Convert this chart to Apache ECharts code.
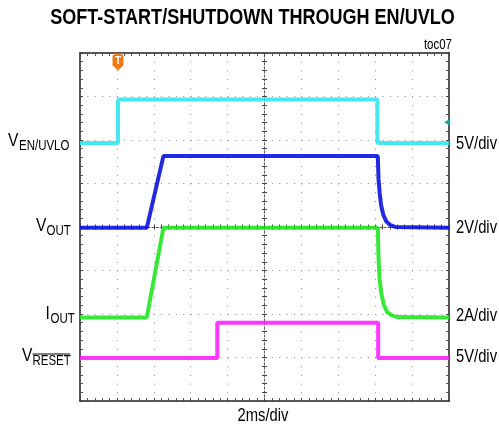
<!DOCTYPE html>
<html>
<head>
<meta charset="utf-8">
<script src="https://cdn.jsdelivr.net/npm/echarts@6/dist/echarts.min.js"></script>
<style>
html,body{margin:0;padding:0;background:#fff;}
#chart{width:499px;height:425px;}
</style>
</head>
<body>
<div id="chart"></div>
<script>
// Traces in scope divisions: [time div (0..10), level div (0..8)]
const enUvlo = [[0,5.93],[1.03,5.93],[1.03,6.93],[8.06,6.93],[8.06,5.93],[10,5.93]];
const vOut = [[0,3.98],[1.81,3.98],[2.26,5.63],[8.07,5.63],[8.09,5.1],[8.12,4.8],[8.16,4.5],[8.22,4.28],[8.3,4.13],[8.4,4.05],[8.55,4.0],[10,3.98]];
const iOut = [[0,1.92],[1.81,1.92],[2.26,3.98],[8.07,3.98],[8.09,3.3],[8.12,2.8],[8.17,2.45],[8.24,2.2],[8.32,2.05],[8.45,1.97],[8.6,1.93],[10,1.92]];
const vReset = [[0,0.99],[3.72,0.99],[3.72,1.8],[8.08,1.8],[8.08,0.99],[10,0.99]];
const triggerPos = [1.03, 7.78];
const levelMarkerPos = [9.95, 6.41];
const titleText = 'SOFT-START/SHUTDOWN THROUGH EN/UVLO';
const scaleLabels = ['5V/div','2V/div','2A/div','5V/div'];
const timeLabel = '2ms/div';

const NF = "'Liberation Sans',Arial,sans-serif";
const SX = 0.82; // condensed look
const chart = echarts.init(document.getElementById('chart'));

function frameAxis(pos, isX, extra) {
  return Object.assign({
    type: 'value', min: 0, max: isX ? 10 : 8, interval: 1, position: pos,
    axisLabel: {show: false},
    axisLine: {show: true, onZero: false, lineStyle: {color: '#222', width: 1.5}},
    axisTick: {show: true, inside: true, length: 3, lineStyle: {color: '#444'}},
    minorTick: {show: true, splitNumber: 5, length: 3, lineStyle: {color: '#555'}},
    splitLine: {show: false}
  }, extra || {});
}

const centerTick = {show: true, inside: true, length: 2.5, lineStyle: {color: '#444'}};
const centerMinor = {show: true, splitNumber: 5, length: 2.5, lineStyle: {color: '#444'}};

const xAxes = [
  frameAxis('bottom', true, {
    splitLine: {show: true, lineStyle: {color: '#888', width: 1, type: [1, 7.7]}}
  }),
  frameAxis('top', true),
  frameAxis('bottom', true, {offset: -174, axisLine: {show: true, onZero: false, lineStyle: {color: '#555', width: 1, type: [2, 2]}}, axisTick: centerTick, minorTick: centerMinor}),
  frameAxis('top', true, {offset: -174, axisLine: {show: false}, axisTick: centerTick, minorTick: centerMinor})
];
const yAxes = [
  frameAxis('left', false, {
    splitLine: {show: true, lineStyle: {color: '#888', width: 1, type: [1, 6.38]}}
  }),
  frameAxis('right', false, {axisLine: {show: true, onZero: false, lineStyle: {color: '#555', width: 2}}}),
  frameAxis('left', false, {offset: -184.5, axisLine: {show: true, onZero: false, lineStyle: {color: '#555', width: 1, type: [2, 2]}}, axisTick: centerTick, minorTick: centerMinor}),
  frameAxis('right', false, {offset: -184.5, axisLine: {show: false}, axisTick: centerTick, minorTick: centerMinor})
];

function trace(name, data, color, extra) {
  return Object.assign({
    name: name, type: 'line', data: data, xAxisIndex: 0, yAxisIndex: 0,
    showSymbol: false, symbol: 'none', animation: false, z: 5,
    lineStyle: {color: color, width: 4, opacity: 0.9}
  }, extra || {});
}

function txt(x, y, text, size, opts) {
  opts = opts || {};
  return {type: 'text', x: x, y: y, scaleX: SX,
    style: {text: text, font: (opts.bold ? 'bold ' : '') + size + 'px ' + NF, fill: '#000',
      textAlign: opts.align || 'left', textVerticalAlign: 'middle'}};
}

const rightLabelYs = [144, 228, 316, 357.5];

const graphics = [
  txt(252.5, 18, titleText, 22, {bold: true, align: 'center'}),
  txt(452, 45, 'toc07', 14, {align: 'right'}),
  txt(263, 416, timeLabel, 18, {align: 'center'}),
  // left channel labels
  txt(8, 141, 'V', 19), txt(19, 146, 'EN/UVLO', 14),
  txt(36, 226, 'V', 19), txt(46.5, 231, 'OUT', 14),
  txt(45.5, 314, 'I', 19), txt(50.5, 319, 'OUT', 14),
  txt(22, 356, 'V', 19), txt(32.5, 361, 'RESET', 14),
  {type: 'line', shape: {x1: 32.5, y1: 354, x2: 70, y2: 354}, style: {stroke: '#000', lineWidth: 1}}
];
scaleLabels.forEach(function (t, i) {
  graphics.push(txt(456, rightLabelYs[i], t, 18));
});

chart.setOption({
  animation: false,
  backgroundColor: '#fff',
  grid: {left: 80, top: 53, width: 369, height: 348, show: false},
  xAxis: xAxes,
  yAxis: yAxes,
  graphic: graphics,
  series: [
    trace('EN/UVLO', enUvlo, '#33e4f2', {
      markPoint: {
        silent: true, animation: false,
        data: [
          {coord: triggerPos, symbol: 'path://M2,0 L10,0 Q12,0 12,2 L12,10 L6,15 L0,10 L0,2 Q0,0 2,0 Z', symbolSize: [11, 16],
           itemStyle: {color: '#f07a14'}, label: {show: true, formatter: 'T', color: '#fff', fontSize: 10, fontWeight: 'bold', offset: [0, -1]}},
          {coord: [triggerPos[0], 7.93], symbol: 'triangle', symbolRotate: 180, symbolSize: [9, 5], itemStyle: {color: '#f07a14'}, label: {show: false}},
          {coord: levelMarkerPos, symbol: 'triangle', symbolRotate: 90, symbolSize: [7, 6], itemStyle: {color: '#1aa0a0'}, label: {show: false}}
        ]
      }
    }),
    trace('VOUT', vOut, '#0a14e0'),
    trace('IOUT', iOut, '#22e622'),
    trace('RESET', vReset, '#ff22ff')
  ]
});
</script>
</body>
</html>
